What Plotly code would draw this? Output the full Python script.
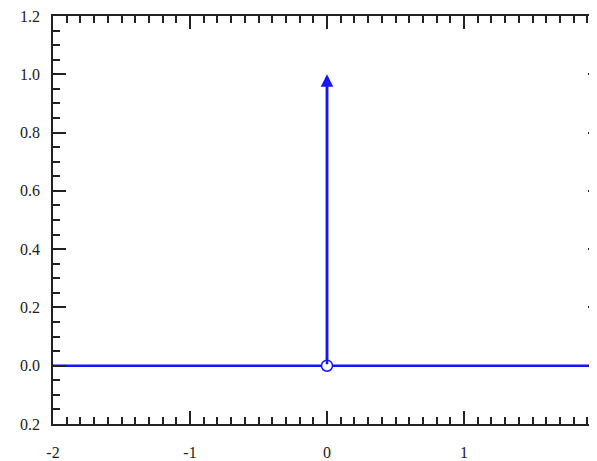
import plotly.graph_objects as go

# Data
line_x = [-2, 0, 2]
line_y = [0, 0, 0]
impulse_x = 0
impulse_height = 1.0
x_tickvals = [-2, -1, 0, 1]
x_ticktext = ["-2", "-1", "0", "1"]
y_tickvals = [-0.2, 0.0, 0.2, 0.4, 0.6, 0.8, 1.0, 1.2]
y_ticktext = ["0.2", "0.0", "0.2", "0.4", "0.6", "0.8", "1.0", "1.2"]

blue = "#1414ff"

fig = go.Figure()
fig.add_trace(go.Scatter(x=line_x, y=line_y, mode="lines",
                         line=dict(color=blue, width=2.5), showlegend=False))
fig.add_trace(go.Scatter(x=[impulse_x, impulse_x], y=[0, impulse_height * 0.97], mode="lines",
                         line=dict(color=blue, width=2.5), showlegend=False))
fig.add_annotation(x=impulse_x, y=impulse_height, ax=impulse_x, ay=0,
                   xref="x", yref="y", axref="x", ayref="y",
                   showarrow=True, arrowhead=2, arrowsize=1.0, arrowwidth=2.5,
                   arrowcolor=blue, text="")
fig.add_trace(go.Scatter(x=[impulse_x], y=[0], mode="markers",
                         marker=dict(size=11, color="white", line=dict(color=blue, width=1.5)),
                         showlegend=False))

axis_common = dict(showgrid=False, zeroline=False, showline=True, linecolor="#222",
                   linewidth=1.5, mirror="allticks", ticks="inside", ticklen=13,
                   tickwidth=1.5, tickcolor="#222", ticklabeloverflow="allow",
                   tickfont=dict(family="Liberation Serif", size=16, color="#222"))

fig.update_xaxes(range=[-2, 2], tickvals=x_tickvals, ticktext=x_ticktext,
                 ticklabelstandoff=13,
                 minor=dict(dtick=0.1, tick0=0, ticks="inside", ticklen=7, tickwidth=1.5,
                            tickcolor="#222"),
                 **axis_common)
fig.update_yaxes(range=[-0.2, 1.2], tickvals=y_tickvals, ticktext=y_ticktext,
                 ticklabelstandoff=8,
                 minor=dict(dtick=0.05, tick0=0, ticks="inside", ticklen=7, tickwidth=1.5,
                            tickcolor="#222"),
                 **axis_common)

fig.update_layout(width=595, height=453, margin=dict(l=45, r=0, t=8, b=36),
                  plot_bgcolor="white", paper_bgcolor="white")
fig.write_html("out.html")
